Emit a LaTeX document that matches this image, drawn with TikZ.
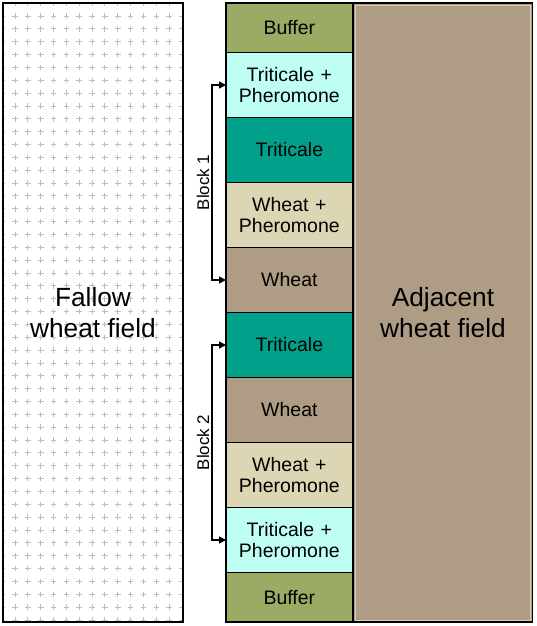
\documentclass[tikz,border=0pt]{standalone}
\usepackage{fontspec}
\setmainfont{Liberation Sans}
\usetikzlibrary{arrows.meta, positioning}
\definecolor{bufgreen}{HTML}{9AAB64}
\definecolor{pheromint}{HTML}{BFFFF3}
\definecolor{trititeal}{HTML}{00A08A}
\definecolor{pherobeige}{HTML}{DDD6B5}
\definecolor{wheattan}{HTML}{AF9C84}
\definecolor{crossgray}{HTML}{BDBDBD}
\definecolor{edgebeige}{HTML}{D9CDB6}

\tikzset{
  plotcell/.style={draw=black, line width=1.6pt, minimum width=126.7pt, minimum height=65pt,
    inner sep=0pt, outer sep=0pt, align=center, text width=120pt,
    font=\fontsize{19.5}{21}\selectfont},
  cellbuffer/.style={plotcell, fill=bufgreen, minimum height=49.5pt},
  celltp/.style={plotcell, fill=pheromint},
  celltri/.style={plotcell, fill=trititeal},
  cellwp/.style={plotcell, fill=pherobeige},
  cellwheat/.style={plotcell, fill=wheattan},
  bigfield/.style={draw=black, line width=1.8pt, minimum width=179pt, minimum height=619pt,
    inner sep=0pt, outer sep=0pt, align=center, font=\fontsize{26.3}{31}\selectfont},
  crossmark/.style={draw=crossgray, line width=1pt},
  blockarrow/.style={line width=1.5pt, {Triangle[length=7pt,width=7pt]}-{Triangle[length=7pt,width=7pt]}},
  blocklabel/.style={font=\fontsize{16.9}{18}\selectfont, inner sep=2pt}
}

\begin{document}
\begin{tikzpicture}[x=1pt, y=-1pt]
    \useasboundingbox (0,0) rectangle (536,626);

    % Fallow field crosses
    \begin{scope}
        \clip (3,3) rectangle (183,622);
        \foreach \i in {0,...,14}
            \foreach \j in {0,...,48}
                \draw[crossmark] ({2.15+12.85*\i},{3.2+12.85*\j}) +(-2.8,0) -- +(2.8,0) +(0,-2.8) -- +(0,2.8);
    \end{scope}

    % Fallow field
    \node[bigfield, minimum width=180pt, anchor=north west] (fallow) at (3,3) {Fallow\\wheat field};

    % Plot strip
    \node[cellbuffer, anchor=north west] (buftop) at (226,3) {Buffer};
    \node[celltp, below=0pt of buftop] (tp1) {Triticale +\\Pheromone};
    \node[celltri, below=0pt of tp1] (tri1) {Triticale};
    \node[cellwp, below=0pt of tri1] (wp1) {Wheat +\\Pheromone};
    \node[cellwheat, below=0pt of wp1] (wh1) {Wheat};
    \node[celltri, below=0pt of wh1] (tri2) {Triticale};
    \node[cellwheat, below=0pt of tri2] (wh2) {Wheat};
    \node[cellwp, below=0pt of wh2] (wp2) {Wheat +\\Pheromone};
    \node[celltp, below=0pt of wp2] (tp2) {Triticale +\\Pheromone};
    \node[cellbuffer, below=0pt of tp2] (bufbot) {Buffer};

    % Adjacent field
    \node[bigfield, fill=wheattan, anchor=north west] (adjacent) at ([xshift=0.8pt]buftop.north east) {Adjacent\\wheat field};
    \draw[edgebeige, line width=0.9pt] ([xshift=2pt, yshift=-2pt]adjacent.north west) rectangle ([xshift=-2pt, yshift=2pt]adjacent.south east);

    % Blocks
    \draw[blockarrow] (wh1.west) -- ++(-14,0) |- node[pos=0.25, sloped, above, blocklabel] {Block 1} (tp1.west);
    \draw[blockarrow] (tp2.west) -- ++(-14,0) |- node[pos=0.25, sloped, above, blocklabel] {Block 2} (tri2.west);
\end{tikzpicture}
\end{document}
